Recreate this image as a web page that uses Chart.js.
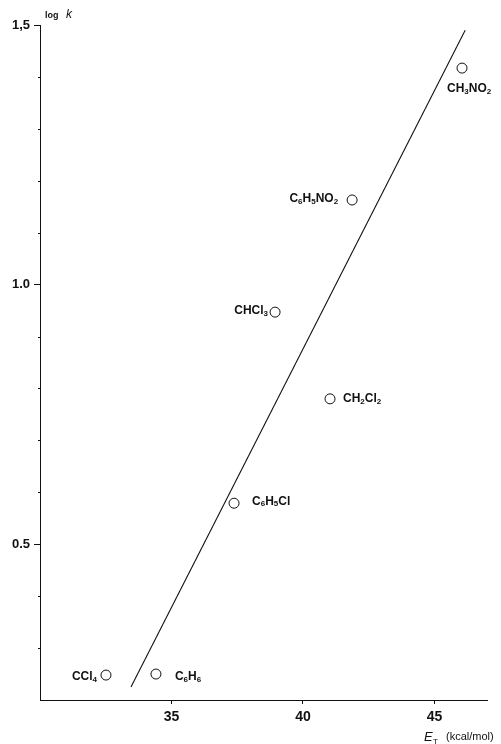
<!DOCTYPE html>
<html>
<head>
<meta charset="utf-8">
<script src="https://cdn.jsdelivr.net/npm/chart.js@4.4.1/dist/chart.umd.min.js"></script>
<style>
  html, body { margin: 0; padding: 0; background: #fff; }
  #wrap { width: 501px; height: 744px; position: relative; }
</style>
</head>
<body>
<div id="wrap"><canvas id="chart"></canvas></div>
<script>
// Disolventes (subíndices marcados con "_")
const compounds = ['CCl_4', 'C_6H_6', 'C_6H_5Cl', 'CHCl_3', 'CH_2Cl_2', 'C_6H_5NO_2', 'CH_3NO_2'];
const etValues = [32.51, 34.41, 37.38, 38.94, 41.03, 41.87, 46.05];
const logK = [0.248, 0.250, 0.579, 0.947, 0.780, 1.163, 1.417];

// Recta de regresión (extremos)
const fitEt = [33.46, 46.17];
const fitLogK = [0.225, 1.490];

// Ejes
const xTicks = [35, 40, 45];
const yMajorTicks = [0.5, 1.0, 1.5];
const yTickLabels = ['0.5', '1.0', '1,5'];
const yMinorTicks = [0.3, 0.4, 0.6, 0.7, 0.8, 0.9, 1.1, 1.2, 1.3, 1.4];

// Colocación de cada etiqueta respecto a su punto: [lado, dx, dy]
const labelPlacement = [
    ['right', -9, 2], ['left', 19, 3], ['left', 18, -2], ['right', -7, -1],
    ['left', 13, 0], ['right', -14, -1], ['left', -15, 21]
];

const FONT = '"Liberation Sans", Arial, sans-serif';

function drawChem(ctx, str, x, y, align) {
    const parts = [];
    for (let i = 0; i < str.length; i++) {
        if (str[i] === '_') { parts.push({ t: str[i + 1], sub: true }); i++; }
        else parts.push({ t: str[i], sub: false });
    }
    const mainF = 'bold 12px ' + FONT;
    const subF = 'bold 8px ' + FONT;
    let w = 0;
    parts.forEach(p => { ctx.font = p.sub ? subF : mainF; w += ctx.measureText(p.t).width; });
    let cx = align === 'right' ? x - w : x;
    ctx.textBaseline = 'middle';
    ctx.textAlign = 'left';
    parts.forEach(p => {
        ctx.font = p.sub ? subF : mainF;
        ctx.fillText(p.t, cx, p.sub ? y + 3 : y);
        cx += ctx.measureText(p.t).width;
    });
}

const annotations = {
    id: 'annotations',
    afterDatasetsDraw(chart) {
        const { ctx, scales } = chart;
        const area = chart.chartArea;
        ctx.save();
        ctx.fillStyle = '#111';
        ctx.strokeStyle = '#111';
        ctx.lineWidth = 1;

        // marcas menores del eje y
        yMinorTicks.forEach(v => {
            const py = Math.round(scales.y.getPixelForValue(v)) + 0.5;
            ctx.beginPath();
            ctx.moveTo(area.left - 2, py);
            ctx.lineTo(area.left, py);
            ctx.stroke();
        });

        // etiquetas de los disolventes
        const meta = chart.getDatasetMeta(0);
        meta.data.forEach((pt, i) => {
            const [side, dx, dy] = labelPlacement[i];
            drawChem(ctx, compounds[i], pt.x + dx, pt.y + dy, side === 'right' ? 'right' : 'left');
        });

        // título eje y: log k
        ctx.textBaseline = 'alphabetic';
        ctx.textAlign = 'left';
        ctx.font = 'bold 9px ' + FONT;
        ctx.fillText('log', 45, 18);
        ctx.font = 'italic 12px ' + FONT;
        ctx.fillText('k', 66, 18);

        // título eje x: E_T (kcal/mol)
        ctx.font = 'italic 13px ' + FONT;
        ctx.fillText('E', 424, 741);
        ctx.font = '8px ' + FONT;
        ctx.fillText('T', 433, 744);
        ctx.font = '11px ' + FONT;
        ctx.fillText('(kcal/mol)', 446, 740);
        ctx.restore();
    }
};

new Chart(document.getElementById('chart'), {
    type: 'scatter',
    data: {
        datasets: [
            {
                label: 'disolventes',
                data: etValues.map((x, i) => ({ x, y: logK[i] })),
                pointRadius: 5,
                pointBorderWidth: 1,
                pointBorderColor: '#111',
                pointBackgroundColor: '#fff'
            },
            {
                label: 'ajuste',
                type: 'line',
                data: fitEt.map((x, i) => ({ x, y: fitLogK[i] })),
                borderColor: '#111',
                borderWidth: 1.1,
                pointRadius: 0,
                fill: false
            }
        ]
    },
    plugins: [annotations],
    options: {
        responsive: true,
        maintainAspectRatio: false,
        animation: false,
        layout: { padding: { top: 25, right: 14, left: 0, bottom: 0 } },
        plugins: { legend: { display: false }, tooltip: { enabled: false } },
        scales: {
            x: {
                type: 'linear',
                min: 30,
                max: 47,
                afterBuildTicks(scale) { scale.ticks = xTicks.map(v => ({ value: v })); },
                afterFit(scale) { scale.height = 44; },
                border: { display: true, color: '#111', width: 1 },
                grid: { drawOnChartArea: false, drawTicks: true, tickLength: 4, tickColor: '#111' },
                ticks: { color: '#111', padding: 5, font: { family: FONT, size: 14, weight: 'bold' } }
            },
            y: {
                type: 'linear',
                min: 0.2,
                max: 1.5,
                afterBuildTicks(scale) { scale.ticks = yMajorTicks.map(v => ({ value: v })); },
                afterFit(scale) { scale.width = 40; },
                border: { display: true, color: '#111', width: 1 },
                grid: { drawOnChartArea: false, drawTicks: true, tickLength: 6, tickColor: '#111' },
                ticks: {
                    color: '#111',
                    padding: 4,
                    font: { family: FONT, size: 13, weight: 'bold' },
                    callback: (v, i) => yTickLabels[i]
                }
            }
        }
    }
});
</script>
</body>
</html>
